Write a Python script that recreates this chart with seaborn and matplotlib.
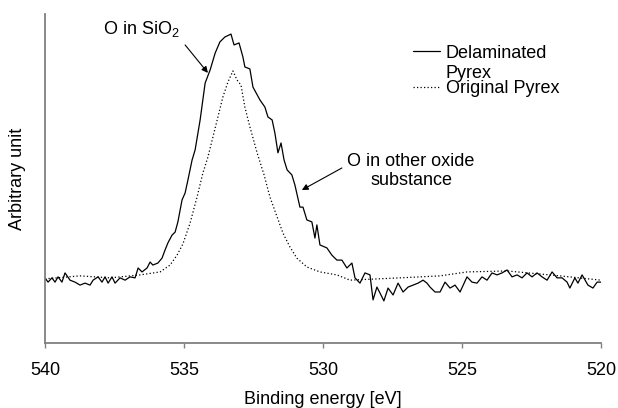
import matplotlib
matplotlib.use("Agg")
import matplotlib.pyplot as plt
import seaborn as sns
import pandas as pd

# ---------------- data ----------------
energy_delaminated = [
    540.00, 539.89, 539.75, 539.64, 539.53, 539.39, 539.28, 539.10, 538.92, 538.74,
    538.56, 538.38, 538.27, 538.09, 537.95, 537.84, 537.73, 537.59, 537.48, 537.30,
    537.12, 536.94, 536.76, 536.65, 536.51, 536.33, 536.22, 536.12, 535.94, 535.79,
    535.68, 535.58, 535.43, 535.32, 535.22, 535.07, 534.96, 534.86, 534.71, 534.60,
    534.42, 534.24, 534.06, 533.88, 533.71, 533.53, 533.31, 533.20, 533.02, 532.88,
    532.81, 532.63, 532.52, 532.27, 532.09, 531.98, 531.83, 531.73, 531.62, 531.51,
    531.40, 531.29, 531.12, 531.01, 530.83, 530.72, 530.58, 530.40, 530.29, 530.22,
    530.11, 529.86, 529.68, 529.50, 529.32, 529.14, 528.96, 528.85, 528.67, 528.49,
    528.31, 528.20, 528.06, 527.95, 527.81, 527.66, 527.48, 527.30, 527.12, 526.94,
    526.76, 526.58, 526.40, 526.26, 526.15, 525.97, 525.79, 525.61, 525.43, 525.25,
    525.07, 524.82, 524.64, 524.46, 524.28, 524.10, 523.92, 523.74, 523.56, 523.38,
    523.20, 523.02, 522.84, 522.66, 522.48, 522.30, 522.12, 521.94, 521.76, 521.58,
    521.40, 521.22, 521.12, 520.94, 520.83, 520.68, 520.47, 520.29, 520.14, 520.00,
]
intensity_delaminated = [
    19.8, 18.5, 19.8, 18.5, 20.1, 18.5, 21.3, 19.1, 18.5, 17.6,
    18.2, 17.6, 19.1, 20.1, 18.5, 20.1, 18.2, 20.1, 18.2, 19.8,
    19.1, 20.1, 19.8, 22.8, 21.6, 22.8, 24.6, 23.7, 24.3, 25.8,
    28.3, 30.4, 32.8, 33.7, 36.8, 43.5, 45.6, 49.5, 55.6, 58.7,
    67.8, 79.0, 83.0, 88.1, 91.5, 93.0, 93.9, 90.6, 91.2, 86.9,
    83.9, 83.3, 77.8, 73.9, 71.7, 68.7, 67.8, 63.8, 57.8, 60.8,
    55.6, 52.6, 51.1, 48.0, 41.3, 41.3, 37.4, 36.8, 31.9, 35.9,
    29.8, 28.9, 26.7, 25.2, 25.2, 22.8, 24.3, 19.8, 18.2, 21.3,
    20.7, 13.1, 17.0, 15.2, 12.8, 16.7, 14.6, 18.2, 15.5, 17.0,
    17.6, 18.2, 19.1, 18.2, 17.0, 15.5, 15.5, 18.5, 16.7, 17.6,
    15.5, 20.1, 18.5, 18.2, 20.1, 19.1, 21.3, 20.7, 21.3, 22.2,
    20.1, 20.7, 19.8, 21.3, 20.1, 21.3, 20.1, 19.1, 21.6, 19.8,
    19.8, 18.5, 16.7, 19.8, 18.2, 20.7, 17.6, 16.7, 18.5, 18.5,
]

energy_original = [
    540.00, 538.74, 537.66, 536.58, 535.86, 535.50, 535.25, 535.04, 534.78, 534.53,
    534.32, 534.14, 533.96, 533.78, 533.60, 533.42, 533.24, 533.09, 532.95, 532.81,
    532.63, 532.37, 532.12, 531.91, 531.65, 531.44, 531.19, 530.94, 530.58, 530.11,
    529.50, 529.03, 527.23, 525.79, 524.82, 523.38, 521.47, 520.00,
]
intensity_original = [
    19.5, 20.4, 19.8, 20.7, 21.6, 23.7, 26.7, 30.1, 36.5, 44.4,
    51.7, 56.5, 62.6, 68.7, 74.8, 79.3, 82.7, 79.9, 78.4, 71.7,
    65.7, 57.8, 51.1, 44.4, 38.3, 33.4, 29.2, 25.8, 23.1, 21.6,
    20.7, 19.1, 19.8, 20.4, 21.6, 21.9, 20.4, 19.1,
]

series_labels = ["Delaminated\nPyrex", "Original Pyrex"]
x_ticks = [540, 535, 530, 525, 520]
x_label = "Binding energy [eV]"
y_label = "Arbitrary unit"
annotation_sio2 = "O in SiO$_2$"
annotation_other = "O in other oxide\nsubstance"

# ---------------- style ----------------
sns.set_style("white")
plt.rcParams["font.family"] = ["Liberation Sans", "DejaVu Sans"]
plt.rcParams["mathtext.fontset"] = "custom"
plt.rcParams["mathtext.rm"] = "Liberation Sans"
plt.rcParams["mathtext.default"] = "regular"
plt.rcParams["text.color"] = "black"
plt.rcParams["axes.labelcolor"] = "black"

fig = plt.figure(figsize=(6.18, 4.08), dpi=100)
ax = fig.add_axes([45 / 618, 1 - 343 / 408, 556 / 618, 329 / 408])

df_del = pd.DataFrame({"energy": energy_delaminated, "intensity": intensity_delaminated})
df_org = pd.DataFrame({"energy": energy_original, "intensity": intensity_original})

sns.lineplot(data=df_del, x="energy", y="intensity", sort=False, estimator=None,
             color="black", linewidth=0.9, ax=ax, label=series_labels[0])
sns.lineplot(data=df_org, x="energy", y="intensity", sort=False, estimator=None,
             color="black", linewidth=0.9, linestyle=(0, (1, 1.8)), ax=ax,
             label=series_labels[1])

ax.set_xlim(540, 520)
ax.set_ylim(0, 100)
ax.set_xticks(x_ticks)
ax.set_xticklabels([str(t) for t in x_ticks])
ax.set_yticks([])

for side in ("top", "right"):
    ax.spines[side].set_visible(False)
for side in ("left", "bottom"):
    ax.spines[side].set_color("#808080")
    ax.spines[side].set_linewidth(1.3)

ax.tick_params(axis="x", direction="out", length=3.6, width=1.0, color="#808080",
               labelcolor="black", labelsize=13, pad=10, bottom=True)

ax.set_xlabel(x_label, fontsize=13, labelpad=9, color="black")
ax.set_ylabel(y_label, fontsize=13, labelpad=14, color="black")

# annotations
ax.text(536.55, 95.5, annotation_sio2, fontsize=13, ha="center", va="center")
ax.annotate("", xy=(534.14, 82.1), xytext=(534.96, 90.6),
            arrowprops=dict(arrowstyle="-|>", color="black", lw=0.8,
                            mutation_scale=9, shrinkA=0, shrinkB=0))
ax.text(526.83, 52.3, annotation_other, fontsize=13, ha="center", va="center",
        linespacing=1.2)
ax.annotate("", xy=(530.76, 46.5), xytext=(529.32, 53.2),
            arrowprops=dict(arrowstyle="-|>", color="black", lw=0.8,
                            mutation_scale=9, shrinkA=0, shrinkB=0))

leg = ax.legend(loc="upper left", bbox_to_anchor=((413 - 45) / 556, (343 - 45) / 329),
                frameon=False, fontsize=13, handlelength=1.5, handletextpad=0.3,
                borderpad=0, borderaxespad=0, labelspacing=-0.1)
for t in leg.get_texts():
    t.set_linespacing(1.25)
    t.set_color("black")
# align each legend handle with the first line of its label
try:
    for column in leg._legend_handle_box.get_children():
        for row in column.get_children():
            row.align = "top"
except Exception:
    pass

fig.savefig("out.png", dpi=100)
